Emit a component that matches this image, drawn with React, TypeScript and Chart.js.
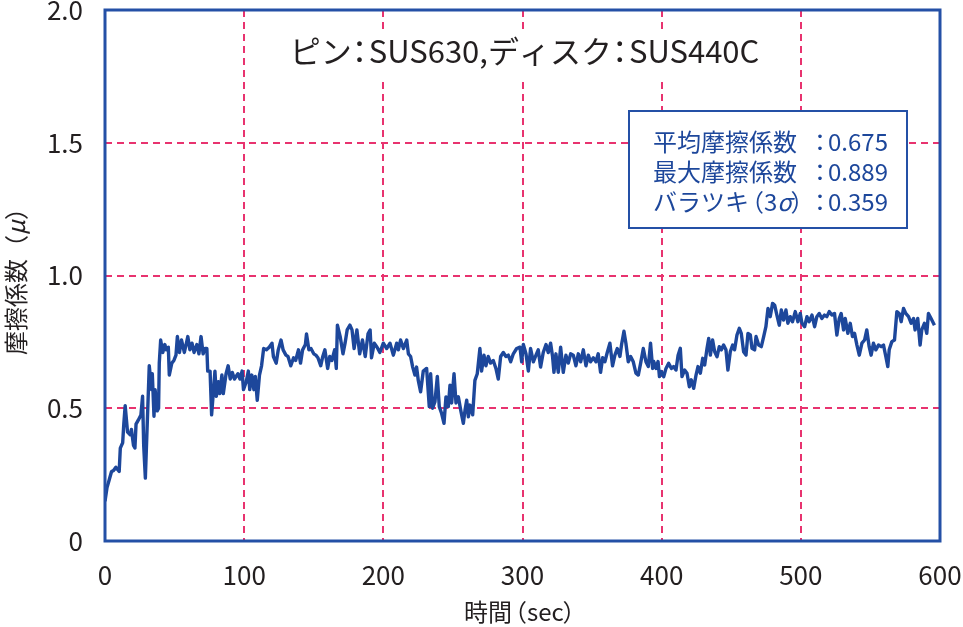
import React, { useEffect, useRef } from 'react';
import { Chart, registerables } from 'chart.js';

Chart.register(...registerables);

// time (sec) and friction coefficient
const times = [
  0, 1.4, 3, 4.7, 6, 7.8, 10.2, 11, 12.7, 13.5, 14.5, 16.2, 18.1, 19, 20.5, 21.5, 22.3, 24, 25.8, 27,
  27.8, 29, 31.8, 33.5, 34, 35.2, 36, 37.5, 38.5, 39, 40, 41.5, 43, 44, 45.5, 46.2, 48, 49.5, 51, 52,
  53.5, 55, 57, 58.5, 59.5, 61, 62.5, 64, 66, 67.5, 69, 70.5, 72, 73.2, 73.8, 75.5, 76.6, 78, 79, 80,
  81.5, 82.5, 84, 85, 87, 88.5, 90, 91.5, 93, 95.5, 97, 98.5, 99.5, 101.5, 103, 104, 105.5, 107, 108, 109.4,
  111, 112.5, 114, 116, 118, 120, 121, 123, 124.5, 126.5, 128, 130, 131.5, 133.5, 135.5, 137, 139, 140.5, 142, 144,
  144.8, 146.5, 148, 150, 151.5, 153, 155, 156.5, 158, 160, 161.5, 163, 165, 166.2, 167, 169, 171, 172.5, 174, 176,
  177.5, 179, 181, 183, 185, 187, 189, 190.5, 191.5, 193.5, 195.5, 197.5, 200, 202.4, 204.8, 207.2, 209.6, 210.8, 212.4, 214.4,
  216.8, 218, 219.6, 221.1, 222.7, 223.9, 225.1, 226.8, 228.7, 231.1, 233, 234, 235.4, 237.1, 238.8, 240.2, 241.9, 243.6, 245, 246.7,
  247.9, 249.1, 250.8, 252.2, 253.9, 255.6, 257.5, 258.7, 259.9, 261.1, 262.3, 264.2, 265.8, 267.5, 269.4, 270.6, 272.3, 273.7, 275.4, 277.1,
  279, 280.9, 282.6, 284.3, 286.2, 288.1, 289.8, 291.5, 293.4, 295.8, 298.2, 299.4, 300.6, 302.5, 304.2, 305.8, 307.8, 309.7, 311.3, 313,
  314.9, 316.9, 318.5, 320.2, 321.6, 322.6, 324, 325.7, 327.4, 329.3, 331.2, 332.9, 334.6, 336.5, 338.4, 340.1, 341.8, 343.7, 345.6, 347.3,
  348.9, 350.9, 352.8, 354.4, 356.1, 357.6, 359.2, 360.9, 362.8, 364.7, 366.4, 368.1, 370, 371.2, 372.9, 374.3, 376, 377.7, 379.6, 381.5,
  383.2, 384.9, 386.8, 388.7, 390.4, 392, 393.5, 394.3, 396, 397.4, 398.4, 399.8, 401.5, 403.1, 405, 407, 408.6, 410.3, 411.8, 413.4,
  414.6, 416.5, 418.2, 419.9, 421.3, 423, 424.7, 426.1, 427.8, 429.5, 430.9, 432.6, 433.8, 435, 436.6, 438.1, 439.8, 441.4, 442.9, 444.5,
  446.2, 447.6, 449.3, 451, 452.4, 454.1, 455.8, 457.2, 458.9, 460.6, 462, 463.7, 464.9, 466.8, 467.8, 469.7, 471.6, 473.3, 474.9, 476.4,
  478, 479.7, 481.2, 482.8, 484.5, 486, 487.6, 489.3, 490.7, 492.4, 494, 496, 497.9, 499.6, 500.8, 502.7, 504.4, 506, 508, 509.9,
  511.5, 513.2, 515.1, 517, 518.7, 520.4, 522.3, 524.2, 525.9, 527.6, 529, 530.7, 531.9, 533.8, 535.5, 537.1, 538.6, 540.3, 542, 543.9,
  545.8, 547.4, 549.1, 550.5, 552.2, 553.9, 555.8, 557.7, 559.4, 561.1, 562.5, 563.5, 565.4, 567.3, 569, 570.7, 572.1, 573.8, 575.4, 577.4,
  579.3, 581, 582.1, 584, 585.7, 586.9, 588.8, 590.5, 591.7, 593.6, 596,
];

const mu = [
  0.15, 0.2, 0.23, 0.262, 0.265, 0.278, 0.262, 0.35, 0.37, 0.44, 0.51, 0.41, 0.4, 0.42, 0.36, 0.35, 0.44, 0.456, 0.475, 0.545,
  0.36, 0.237, 0.66, 0.57, 0.63, 0.47, 0.57, 0.49, 0.5, 0.67, 0.757, 0.71, 0.74, 0.72, 0.73, 0.625, 0.67, 0.68, 0.7, 0.77,
  0.71, 0.757, 0.71, 0.745, 0.77, 0.72, 0.745, 0.71, 0.74, 0.705, 0.77, 0.705, 0.725, 0.725, 0.64, 0.64, 0.475, 0.57, 0.64, 0.545,
  0.6, 0.555, 0.625, 0.555, 0.63, 0.66, 0.61, 0.635, 0.61, 0.63, 0.61, 0.64, 0.57, 0.6, 0.64, 0.57, 0.625, 0.57, 0.62, 0.53,
  0.625, 0.66, 0.725, 0.72, 0.73, 0.745, 0.695, 0.67, 0.72, 0.757, 0.72, 0.7, 0.695, 0.66, 0.69, 0.68, 0.72, 0.67, 0.72, 0.74,
  0.78, 0.72, 0.725, 0.705, 0.7, 0.69, 0.66, 0.695, 0.72, 0.65, 0.695, 0.68, 0.72, 0.65, 0.813, 0.77, 0.705, 0.745, 0.795, 0.813,
  0.795, 0.725, 0.795, 0.705, 0.757, 0.695, 0.78, 0.795, 0.69, 0.745, 0.73, 0.71, 0.745, 0.725, 0.745, 0.7, 0.745, 0.72, 0.757, 0.725,
  0.757, 0.705, 0.695, 0.655, 0.625, 0.655, 0.605, 0.562, 0.64, 0.65, 0.506, 0.63, 0.5, 0.525, 0.62, 0.506, 0.48, 0.443, 0.543, 0.506,
  0.587, 0.52, 0.63, 0.52, 0.543, 0.493, 0.443, 0.493, 0.53, 0.468, 0.512, 0.475, 0.605, 0.63, 0.725, 0.64, 0.7, 0.66, 0.695, 0.67,
  0.68, 0.65, 0.61, 0.695, 0.71, 0.695, 0.7, 0.675, 0.705, 0.725, 0.73, 0.675, 0.74, 0.705, 0.64, 0.725, 0.675, 0.7, 0.72, 0.655,
  0.71, 0.74, 0.71, 0.745, 0.695, 0.635, 0.705, 0.635, 0.73, 0.635, 0.7, 0.67, 0.705, 0.7, 0.66, 0.705, 0.675, 0.72, 0.66, 0.7,
  0.675, 0.69, 0.675, 0.705, 0.635, 0.69, 0.675, 0.71, 0.745, 0.66, 0.7, 0.725, 0.695, 0.74, 0.79, 0.745, 0.675, 0.695, 0.675, 0.632,
  0.625, 0.67, 0.725, 0.675, 0.657, 0.745, 0.65, 0.676, 0.65, 0.676, 0.619, 0.638, 0.619, 0.65, 0.669, 0.65, 0.657, 0.644, 0.7, 0.726,
  0.619, 0.644, 0.632, 0.581, 0.607, 0.575, 0.625, 0.657, 0.632, 0.688, 0.663, 0.726, 0.763, 0.7, 0.757, 0.713, 0.694, 0.732, 0.72, 0.738,
  0.72, 0.644, 0.713, 0.738, 0.72, 0.776, 0.801, 0.782, 0.713, 0.7, 0.782, 0.776, 0.726, 0.72, 0.77, 0.738, 0.732, 0.77, 0.807, 0.876,
  0.845, 0.895, 0.888, 0.851, 0.813, 0.87, 0.832, 0.87, 0.82, 0.845, 0.826, 0.864, 0.826, 0.857, 0.82, 0.807, 0.845, 0.826, 0.851, 0.807,
  0.845, 0.857, 0.838, 0.851, 0.845, 0.864, 0.851, 0.857, 0.776, 0.838, 0.857, 0.795, 0.838, 0.782, 0.82, 0.77, 0.782, 0.738, 0.7, 0.745,
  0.757, 0.795, 0.732, 0.7, 0.745, 0.72, 0.738, 0.732, 0.738, 0.694, 0.657, 0.72, 0.751, 0.757, 0.864, 0.857, 0.826, 0.876, 0.857, 0.845,
  0.82, 0.838, 0.795, 0.838, 0.738, 0.795, 0.82, 0.782, 0.857, 0.838, 0.813,
];

const xTicks = [0, 100, 200, 300, 400, 500, 600];
const yTicks = [0, 0.5, 1.0, 1.5, 2.0];
const yTickLabels = ['0', '0.5', '1.0', '1.5', '2.0'];

const chartTitle = 'ピン：SUS630,ディスク：SUS440C';
const xTitle = '時間（sec）';
const yTitle = '摩擦係数（μ）';
const statLabels = ['平均摩擦係数', '最大摩擦係数', 'バラツキ（3σ）'];
const statValues = ['0.675', '0.889', '0.359'];

const FONT = '"Noto Sans CJK JP", "Noto Sans", sans-serif';
const TEXT = '#231f20';
const BLUE = '#1d479b';
const FRAME = '#2450a6';
const GRID = '#e8336f';

// proportional spacing for full-width punctuation (like the original typesetting)
const NARROW: Record<string, { shift: number; adv: number }> = {
  '（': { shift: -0.38, adv: 0.62 },
  '）': { shift: -0.05, adv: 0.55 },
  '：': { shift: -0.25, adv: 0.55 },
};

type Run = { text: string; italic: boolean; narrow: boolean };

function splitRuns(text: string, narrow: boolean): Run[] {
  const runs: Run[] = [];
  for (const ch of text) {
    const italic = ch === 'σ' || ch === 'μ';
    const isNarrow = narrow && ch in NARROW;
    const last = runs[runs.length - 1];
    if (last && !italic && !isNarrow && !last.italic && !last.narrow) last.text += ch;
    else runs.push({ text: ch, italic, narrow: isNarrow });
  }
  return runs;
}

// draw a string with italic Greek letters and tighter punctuation
function drawText(
  ctx: CanvasRenderingContext2D,
  text: string,
  x: number,
  y: number,
  size: number,
  align: 'left' | 'center',
  narrow = true,
) {
  const runs = splitRuns(text, narrow);
  const fontOf = (r: Run) => `${r.italic ? 'italic ' : ''}${size}px ${FONT}`;
  const advOf = (r: Run) => {
    ctx.font = fontOf(r);
    return r.narrow ? NARROW[r.text].adv * size : ctx.measureText(r.text).width;
  };
  const total = runs.reduce((s, r) => s + advOf(r), 0);
  let cx = align === 'center' ? x - total / 2 : x;
  ctx.textAlign = 'left';
  for (const r of runs) {
    ctx.font = fontOf(r);
    const shift = r.narrow ? NARROW[r.text].shift * size : 0;
    ctx.fillText(r.text, cx + shift, y);
    cx += advOf(r);
  }
  return total;
}

const decorPlugin = {
  id: 'decor',
  afterDatasetsDraw(chart: Chart) {
    const { ctx, chartArea } = chart;
    const { left, top, right, bottom } = chartArea;
    ctx.save();
    ctx.textBaseline = 'middle';

    // title on a white band
    const cx = (left + right) / 2 + 2;
    ctx.globalAlpha = 0;
    const tw = drawText(ctx, chartTitle, cx, top + 41, 31, 'center');
    ctx.globalAlpha = 1;
    ctx.fillStyle = '#ffffff';
    ctx.fillRect(cx - tw / 2 - 6, top + 21, tw + 12, 46);
    ctx.fillStyle = TEXT;
    drawText(ctx, chartTitle, cx, top + 41, 31, 'center');

    // statistics box
    const bx = 629;
    const by = 111;
    const bw = 278;
    const bh = 117;
    ctx.fillStyle = '#ffffff';
    ctx.fillRect(bx, by, bw, bh);
    ctx.strokeStyle = FRAME;
    ctx.lineWidth = 2;
    ctx.strokeRect(bx, by, bw, bh);
    ctx.fillStyle = BLUE;
    statLabels.forEach((label, i) => {
      const ly = by + 31 + i * 30;
      drawText(ctx, label, bx + 24, ly, 24, 'left');
      ctx.font = `24px ${FONT}`;
      ctx.textAlign = 'center';
      ctx.fillText('：', bx + 191, ly);
      ctx.textAlign = 'left';
      ctx.fillText(statValues[i], bx + 199, ly);
    });

    // x axis title
    ctx.fillStyle = TEXT;
    drawText(ctx, xTitle, (left + right) / 2 - 2, 612, 24, 'center');

    // y axis title, rotated
    ctx.translate(16, (top + bottom) / 2);
    ctx.rotate(-Math.PI / 2);
    drawText(ctx, yTitle, 0, 0, 24, 'center', false);
    ctx.restore();
  },
  afterDraw(chart: Chart) {
    const { ctx, chartArea } = chart;
    ctx.save();
    ctx.strokeStyle = FRAME;
    ctx.lineWidth = 3;
    ctx.strokeRect(chartArea.left, chartArea.top, chartArea.right - chartArea.left, chartArea.bottom - chartArea.top);
    ctx.restore();
  },
};

const App: React.FC = () => {
  const canvasRef = useRef<HTMLCanvasElement | null>(null);
  const chartRef = useRef<Chart | null>(null);

  useEffect(() => {
    document.body.style.margin = '0';
    if (!canvasRef.current) return;
    if (chartRef.current) chartRef.current.destroy();

    chartRef.current = new Chart(canvasRef.current, {
      type: 'line',
      data: {
        datasets: [
          {
            label: '摩擦係数',
            data: times.map((t, i) => ({ x: t, y: mu[i] })),
            borderColor: BLUE,
            borderWidth: 3.4,
            borderJoinStyle: 'round',
            pointRadius: 0,
            tension: 0,
            fill: false,
          },
        ],
      },
      options: {
        responsive: true,
        maintainAspectRatio: false,
        animation: false,
        layout: { padding: { top: 10, right: 23, left: 0, bottom: 0 } },
        plugins: {
          legend: { display: false },
          tooltip: { enabled: false },
        },
        scales: {
          x: {
            type: 'linear',
            min: 0,
            max: 600,
            afterBuildTicks: (scale: any) => {
              scale.ticks = xTicks.map((v) => ({ value: v }));
            },
            afterFit: (scale: any) => {
              scale.height = 86;
              scale.paddingLeft = 0;
              scale.paddingRight = 0;
            },
            ticks: {
              color: TEXT,
              padding: 19,
              maxRotation: 0,
              font: { family: FONT, size: 26 },
              callback: (v: any) => String(v),
            },
            grid: { color: GRID, lineWidth: 2, drawTicks: false },
            border: { display: false, dash: [7, 5] },
          },
          y: {
            type: 'linear',
            min: 0,
            max: 2,
            afterBuildTicks: (scale: any) => {
              scale.ticks = yTicks.map((v) => ({ value: v }));
            },
            afterFit: (scale: any) => {
              scale.width = 105;
              scale.paddingTop = 0;
              scale.paddingBottom = 0;
            },
            ticks: {
              color: TEXT,
              padding: 22,
              font: { family: FONT, size: 26 },
              callback: (_v: any, i: number) => yTickLabels[i],
            },
            grid: { color: GRID, lineWidth: 2, drawTicks: false },
            border: { display: false, dash: [7, 5] },
          },
        },
      },
      plugins: [decorPlugin],
    });

    return () => {
      if (chartRef.current) {
        chartRef.current.destroy();
        chartRef.current = null;
      }
    };
  }, []);

  return (
    <div style={{ width: 963, height: 627, position: 'relative', background: '#ffffff' }}>
      <canvas ref={canvasRef}></canvas>
    </div>
  );
};

export default App;
